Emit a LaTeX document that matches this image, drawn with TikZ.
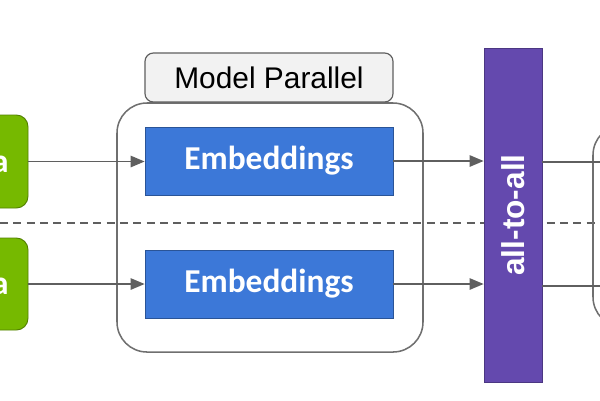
\documentclass[tikz,border=0pt]{standalone}
\usepackage{fontspec}
\setmainfont{Liberation Sans}
\newfontfamily\embfont{Carlito}
\usetikzlibrary{arrows.meta}

\definecolor{datagreen}{HTML}{76B900}
\definecolor{embblue}{HTML}{3C78D8}
\definecolor{a2apurple}{HTML}{6449AE}
\definecolor{linegray}{HTML}{5F5F5F}

\tikzset{
  databox/.style={draw=datagreen!70!black, fill=datagreen, rounded corners=3.5mm, line width=0.8pt,
    text=white, font=\embfont\bfseries\fontsize{28.5}{31}\selectfont},
  embbox/.style={draw=embblue!70!black, fill=embblue, line width=0.6pt,
    text=white, font=\embfont\bfseries\fontsize{28.5}{31}\selectfont},
  flow/.style={draw=linegray, line width=1.4pt, -{Triangle[length=4.2mm, width=3.4mm]}},
  plain/.style={draw=linegray, line width=1.4pt},
}

\begin{document}
\begin{tikzpicture}[x=0.3mm, y=-0.3mm]
    \useasboundingbox (0,0) rectangle (600,400);
    \clip (0,0) rectangle (600,400);
    \fill[white] (0,0) rectangle (600,400);

    % 区切り線
    \coordinate (sepL) at (0,223);
    \coordinate (sepR) at (600,223);
    \draw[linegray, line width=1.1pt, dash pattern=on 2.4mm off 1.6mm] (sepL) -- (sepR);

    % 入力
    \node[databox, minimum width=31.2mm, minimum height=27.9mm] (dataT) at (-24,161.5) {Data};
    \node[databox, minimum width=31.2mm, minimum height=27.6mm] (dataB) at (-24,284) {Data};

    % Model Parallel の枠
    \node[draw=linegray!90, line width=1.3pt, rounded corners=9mm,
      minimum width=91.8mm, minimum height=74.7mm] (mpGroup) at (270,227.5) {};
    \node[draw=linegray, fill=gray!10, line width=1pt, rounded corners=2.5mm,
      minimum width=74.4mm, minimum height=14.7mm,
      font=\fontsize{25.5}{28}\selectfont] (mpLabel) at (269,77.5) {Model Parallel};

    % Embeddings
    \node[embbox, minimum width=74.4mm, minimum height=20.4mm] (embT) at (269,161) {Embeddings};
    \node[embbox, minimum width=74.4mm, minimum height=20.4mm] (embB) at (269,284) {Embeddings};

    % all-to-all
    \node[draw=a2apurple!75!black, fill=a2apurple, line width=0.6pt,
      minimum width=17.4mm, minimum height=100.2mm] (a2a) at (513,215) {};
    \node[rotate=90, text=white, font=\bfseries\fontsize{27}{30}\selectfont] (a2aText) at (a2a.center) {all-to-all};

    % 右側の枠
    \node[draw=linegray!90, line width=1.3pt, rounded corners=9mm,
      minimum width=36mm, minimum height=60.6mm] (rightGroup) at (653,226) {};

    % 矢印
    \draw[flow] (dataT.east) -- (dataT.east -| embT.west);
    \draw[flow] (dataB.east) -- (dataB.east -| embB.west);
    \draw[flow] (embT.east) -- (embT.east -| a2a.west);
    \draw[flow] (embB.east) -- (embB.east -| a2a.west);

    \coordinate (outT) at (620,162);
    \coordinate (outB) at (620,286);
    \draw[plain] (a2a.east |- outT) -- (outT);
    \draw[plain] (a2a.east |- outB) -- (outB);
  \end{tikzpicture}
\end{document}
